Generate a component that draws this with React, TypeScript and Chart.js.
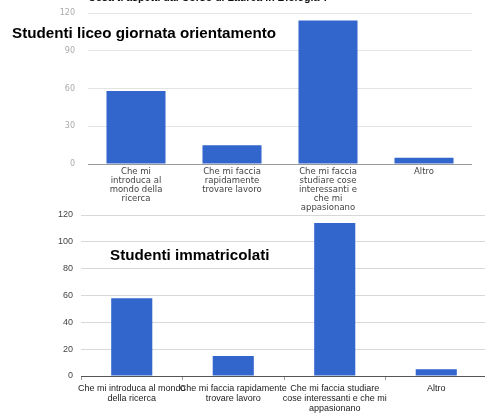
import React, { useEffect, useRef } from "react";
import Chart from "chart.js/auto";

const topTitle = "Cosa ti aspetti dal Corso di Laurea in Biologia ?";
const topOverlay = "Studenti liceo giornata orientamento";
const bottomOverlay = "Studenti immatricolati";

const topLabels: string[][] = [
  ["Che mi", "introduca al", "mondo della", "ricerca"],
  ["Che mi faccia", "rapidamente", "trovare lavoro"],
  ["Che mi faccia", "studiare cose", "interessanti e", "che mi", "appasionano"],
  ["Altro"],
];
const topValues = [58, 15, 114, 5];
const topTicks = [0, 30, 60, 90, 120];

const bottomLabels: string[][] = [
  ["Che mi introduca al mondo", "della ricerca"],
  ["Che mi faccia rapidamente", "trovare lavoro"],
  ["Che mi faccia studiare", "cose interessanti e che mi", "appasionano"],
  ["Altro"],
];
const bottomValues = [58, 15, 114, 5];

const BAR = "#3366cc";

const fixTop = (T: number) => ({
  id: "fixTop",
  afterLayout(chart: any) {
    const y = chart.scales.y;
    const bottom = y.bottom;
    y.top = T;
    y.height = bottom - T;
    y.configure();
    chart.chartArea.top = T;
    chart.chartArea.height = chart.chartArea.bottom - T;
  },
});

function TopChart() {
  const ref = useRef<HTMLCanvasElement>(null);
  useEffect(() => {
    const chart = new Chart(ref.current!, {
      type: "bar",
      data: {
        labels: topLabels,
        datasets: [{ data: topValues, backgroundColor: BAR, categoryPercentage: 1, barPercentage: 0.615 }],
      },
      plugins: [fixTop(13)],
      options: {
        animation: false,
        responsive: false,
        layout: { padding: { top: 13, right: 13, left: 0, bottom: 0 } },
        plugins: { legend: { display: false }, tooltip: { enabled: false } },
        scales: {
          x: {
            grid: { display: false, drawTicks: false },
            border: { display: false },
            ticks: {
              autoSkip: false,
              maxRotation: 0,
              padding: 3.5,
              color: "#444",
              font: { family: "DejaVu Sans", size: 8.5, lineHeight: 9 / 8.5 },
            },
            afterFit: (s: any) => { s.height = 48; },
          },
          y: {
            min: 0,
            max: 120,
            afterBuildTicks: (s: any) => { s.ticks = topTicks.map((v) => ({ value: v })); },
            grid: {
              drawTicks: false,
              color: (c: any) => (c.tick && c.tick.value === 0 ? "#999" : "#e4e4e4"),
            },
            border: { display: false },
            ticks: {
              padding: 13,
              color: "#aaa",
              font: { family: "DejaVu Sans", size: 8 },
            },
            afterFit: (s: any) => { s.width = 88; },
          },
        },
      },
    });
    return () => chart.destroy();
  }, []);
  return <canvas ref={ref} width={485} height={212} style={{ position: "absolute", left: 0, top: 0 }} />;
}

function BottomChart() {
  const ref = useRef<HTMLCanvasElement>(null);
  useEffect(() => {
    const chart = new Chart(ref.current!, {
      type: "bar",
      data: {
        labels: bottomLabels,
        datasets: [{ data: bottomValues, backgroundColor: BAR, categoryPercentage: 1, barPercentage: 0.405 }],
      },
      plugins: [fixTop(10)],
      options: {
        animation: false,
        responsive: false,
        layout: { padding: { top: 10, right: 0, left: 0, bottom: 0 } },
        plugins: { legend: { display: false }, tooltip: { enabled: false } },
        scales: {
          x: {
            grid: { display: true, offset: true, drawOnChartArea: false, drawTicks: true, tickLength: 4, color: "#999" },
            border: { display: true, color: "#555" },
            ticks: {
              autoSkip: false,
              maxRotation: 0,
              padding: 3.5,
              color: "#222",
              font: { family: "Liberation Sans", size: 9, lineHeight: 1.1 },
            },
            afterFit: (s: any) => { s.height = 41; },
          },
          y: {
            min: 0,
            max: 120,
            grid: { drawTicks: false, color: "#d8d8d8" },
            border: { display: false },
            ticks: {
              stepSize: 20,
              padding: 8,
              color: "#444",
              font: { family: "Liberation Sans", size: 9 },
            },
            afterFit: (s: any) => { s.width = 81; },
          },
        },
      },
    });
    return () => chart.destroy();
  }, []);
  return <canvas ref={ref} width={487} height={212} style={{ position: "absolute", left: 0, top: 205 }} />;
}

export default function App() {
  return (
    <div style={{ position: "absolute", left: 0, top: 0, width: 485, height: 417, overflow: "hidden", background: "#fff", fontFamily: "Liberation Sans, Arial, sans-serif" }}>
      <BottomChart />
      <TopChart />
      <div style={{ position: "absolute", left: 88, top: -9, fontSize: 10.6, fontWeight: "bold", lineHeight: "13px", whiteSpace: "nowrap", color: "#111" }}>{topTitle}</div>
      <div style={{ position: "absolute", left: 12, top: 24, fontSize: 15.2, fontWeight: "bold", lineHeight: "18px", whiteSpace: "nowrap", color: "#000" }}>{topOverlay}</div>
      <div style={{ position: "absolute", left: 110, top: 246, fontSize: 15.2, fontWeight: "bold", lineHeight: "18px", whiteSpace: "nowrap", color: "#000" }}>{bottomOverlay}</div>
    </div>
  );
}
